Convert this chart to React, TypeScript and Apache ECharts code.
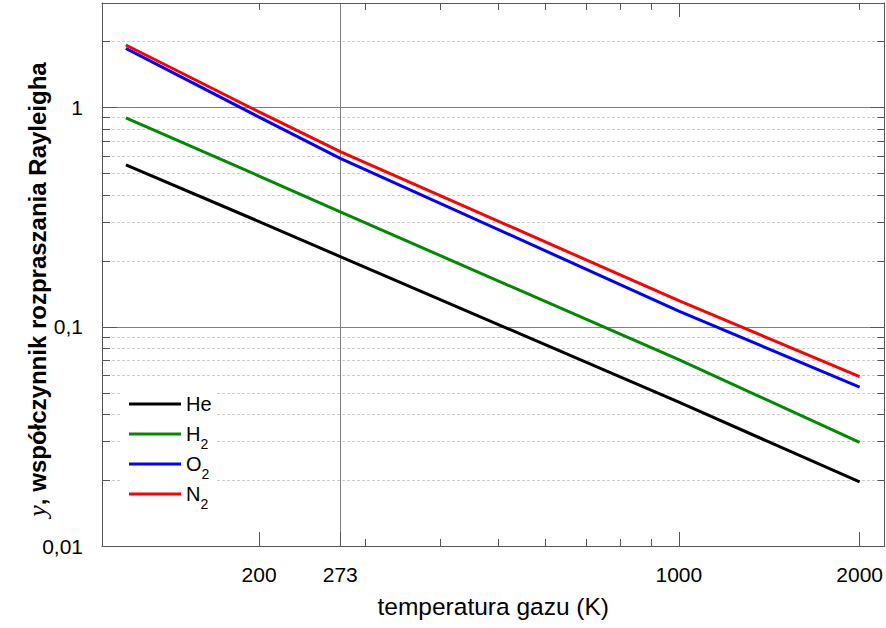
import React, { useEffect, useRef } from "react";
import * as echarts from "echarts";

// ---- data ----
const temperatures = [120, 200, 273, 1000, 2000];
const heValues = [0.548, 0.302, 0.209, 0.0453, 0.0196];
const h2Values = [0.898, 0.487, 0.334, 0.0708, 0.0297];
const o2Values = [1.863, 0.905, 0.587, 0.118, 0.053];
const n2Values = [1.93, 0.956, 0.63, 0.1315, 0.0593];

const seriesNames = ["He", "H2", "O2", "N2"];
const seriesColors = ["#000000", "#008a00", "#0000ff", "#ff0000"];

// axis ranges / ticks
const xRange = [109.5, 2200];
const yRange = [0.01, 3];
const xMajorTicks = [200, 273, 1000, 2000];
const xMajorLabels = ["200", "273", "1000", "2000"];
const xMinorTicks = [300, 400, 500, 600, 700, 800, 900];
const xTopMajorTicks = [1000];
const xTopMinorTicks = [200, 300, 400, 500, 600, 700, 800, 900, 2000];
const xGridLines = [273];
const yMajorTicks = [0.01, 0.1, 1];
const yMajorLabels = ["0,01", "0,1", "1"];
const yMinorTicks = [
  0.02, 0.03, 0.04, 0.05, 0.06, 0.07, 0.08, 0.09,
  0.2, 0.3, 0.4, 0.5, 0.6, 0.7, 0.8, 0.9, 2,
];

const L = (v: number) => Math.log10(v);
const FONT = "Liberation Sans, Arial, sans-serif";
const AXIS_COLOR = "#555555";

function labelFor(values: number[], labels: string[]) {
  return (v: number) => {
    for (let i = 0; i < values.length; i++) {
      if (Math.abs(L(values[i]) - v) < 1e-6) return labels[i];
    }
    return "";
  };
}

function helperX(extra: any) {
  return {
    type: "value",
    gridIndex: 0,
    min: L(xRange[0]),
    max: L(xRange[1]),
    axisLine: { show: false, onZero: false },
    axisTick: { show: false },
    axisLabel: { show: false },
    splitLine: { show: false },
    ...extra,
  };
}

function helperY(extra: any) {
  return {
    type: "value",
    gridIndex: 0,
    min: L(yRange[0]),
    max: L(yRange[1]),
    axisLine: { show: false, onZero: false },
    axisTick: { show: false },
    axisLabel: { show: false },
    splitLine: { show: false },
    ...extra,
  };
}

export default function App() {
  const ref = useRef<HTMLDivElement>(null);

  useEffect(() => {
    if (!ref.current) return;
    const chart = echarts.init(ref.current, undefined, { renderer: "svg" });
    const allValues = [heValues, h2Values, o2Values, n2Values];

    const option: any = {
      animation: false,
      backgroundColor: "#ffffff",
      textStyle: { fontFamily: FONT },
      grid: { left: 102, right: 1, top: 3, bottom: 82, show: false },
      xAxis: [
        { type: "log", logBase: 10, min: xRange[0], max: xRange[1], show: false },
        helperX({
          position: "bottom",
          axisLine: { show: true, onZero: false, lineStyle: { color: AXIS_COLOR, width: 1 } },
          axisTick: {
            show: true, inside: true, length: 14,
            customValues: xMajorTicks.map(L),
            lineStyle: { color: AXIS_COLOR },
          },
          axisLabel: {
            show: true, customValues: xMajorTicks.map(L), margin: 18,
            fontSize: 21, color: "#000", fontFamily: FONT,
            formatter: labelFor(xMajorTicks, xMajorLabels),
          },
          name: "temperatura gazu (K)",
          nameLocation: "middle",
          nameGap: 48,
          nameMoveOverlap: false,
          nameTextStyle: { fontSize: 24.5, color: "#000", fontFamily: FONT },
        }),
        helperX({
          position: "bottom",
          axisTick: {
            show: true, inside: true, length: 7,
            customValues: xMinorTicks.map(L),
            lineStyle: { color: AXIS_COLOR },
          },
        }),
        helperX({
          position: "top",
          axisLine: { show: true, onZero: false, lineStyle: { color: AXIS_COLOR, width: 1 } },
          axisTick: {
            show: true, inside: true, length: 14,
            customValues: xTopMajorTicks.map(L),
            lineStyle: { color: AXIS_COLOR },
          },
        }),
        helperX({
          position: "top",
          axisTick: {
            show: true, inside: true, length: 7,
            customValues: xTopMinorTicks.map(L),
            lineStyle: { color: AXIS_COLOR },
          },
        }),
        helperX({
          position: "bottom",
          axisTick: { show: false, customValues: xGridLines.map(L) },
          splitLine: { show: true, lineStyle: { color: "#808080", width: 1, type: "solid" } },
        }),
      ],
      yAxis: [
        { type: "log", logBase: 10, min: yRange[0], max: yRange[1], show: false },
        helperY({
          position: "left",
          axisLine: { show: true, onZero: false, lineStyle: { color: AXIS_COLOR, width: 1 } },
          axisTick: {
            show: true, inside: true, length: 15,
            customValues: yMajorTicks.map(L),
            lineStyle: { color: AXIS_COLOR },
          },
          axisLabel: {
            show: true, customValues: yMajorTicks.map(L), margin: 19,
            fontSize: 21, color: "#000", fontFamily: FONT,
            showMinLabel: true, showMaxLabel: true,
            formatter: labelFor(yMajorTicks, yMajorLabels),
          },
          splitLine: { show: true, lineStyle: { color: "#808080", width: 1, type: "solid" } },
          name: "{i|y}, współczynnik rozpraszania Rayleigha",
          nameLocation: "middle",
          nameGap: 52,
          nameMoveOverlap: false,
          nameTextStyle: {
            fontSize: 24, fontWeight: "bold", color: "#000", fontFamily: FONT,
            padding: [0, 30, 0, 0],
            rich: {
              i: {
                fontSize: 26, fontStyle: "italic", fontWeight: "normal",
                fontFamily: "Liberation Serif, serif", color: "#000",
              },
            },
          },
        }),
        helperY({
          position: "left",
          axisTick: {
            show: true, inside: true, length: 8,
            customValues: yMinorTicks.map(L),
            lineStyle: { color: AXIS_COLOR },
          },
          splitLine: { show: true, lineStyle: { color: "#cccccc", width: 1, type: [3, 2] } },
        }),
        helperY({
          position: "right",
          axisLine: { show: true, onZero: false, lineStyle: { color: AXIS_COLOR, width: 1 } },
          axisTick: {
            show: true, inside: true, length: 14,
            customValues: yMajorTicks.map(L),
            lineStyle: { color: AXIS_COLOR },
          },
        }),
        helperY({
          position: "right",
          axisTick: {
            show: true, inside: true, length: 7,
            customValues: yMinorTicks.map(L),
            lineStyle: { color: AXIS_COLOR },
          },
        }),
      ],
      legend: {
        orient: "vertical",
        left: 122,
        top: 385,
        padding: [2, 4, 2, 7],
        itemGap: -4,
        itemWidth: 52,
        itemHeight: 3,
        icon: "rect",
        backgroundColor: "#ffffff",
        data: seriesNames,
        formatter: (name: string) =>
          name.replace(/^([A-Za-z]+)(\d)?$/, (_m, a, d) => (d ? `{n|${a}}{s|${d}}` : `{n|${a}}`)),
        textStyle: {
          fontSize: 20, color: "#000", fontFamily: FONT, lineHeight: 34,
          rich: {
            n: { fontSize: 20, lineHeight: 34, color: "#000", fontFamily: FONT },
            s: { fontSize: 14, lineHeight: 34, verticalAlign: "bottom", color: "#000", fontFamily: FONT },
          },
        },
      },
      series: seriesNames.map((name, k) => ({
        name,
        type: "line",
        xAxisIndex: 0,
        yAxisIndex: 0,
        symbol: "none",
        showSymbol: false,
        color: seriesColors[k],
        itemStyle: { color: seriesColors[k] },
        lineStyle: { color: seriesColors[k], width: 3 },
        data: temperatures.map((t, i) => [t, allValues[k][i]]),
        z: 3,
      })),
    };

    chart.setOption(option);
    return () => chart.dispose();
  }, []);

  return (
    <div
      ref={ref}
      style={{ position: "fixed", left: 0, top: 0, width: 886, height: 628, background: "#fff" }}
    />
  );
}
